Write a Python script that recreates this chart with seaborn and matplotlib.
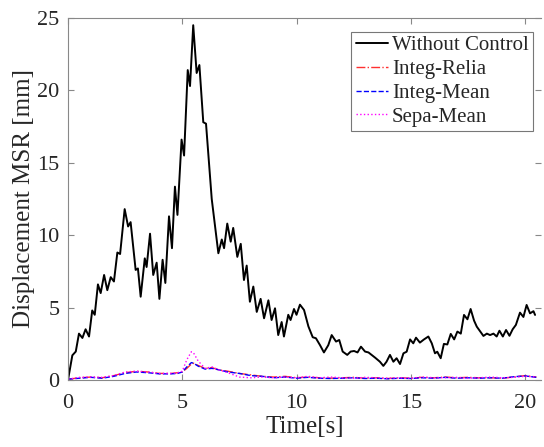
import numpy as np
import pandas as pd
import seaborn as sns
import matplotlib
matplotlib.use('Agg')
import matplotlib.pyplot as plt

# 제어 없음 (Without Control) : 시간[s], 변위 MSR[mm]
t_free = [0.0, 0.19, 0.34, 0.48, 0.63, 0.77, 0.92, 1.06, 1.17, 1.31, 1.43, 1.58, 1.72, 1.87, 2.01,
          2.16, 2.28, 2.48, 2.63, 2.74, 2.96, 3.06, 3.18, 3.36, 3.44, 3.59, 3.73, 3.88, 4.0, 4.14,
          4.26, 4.42, 4.55, 4.68, 4.79, 4.97, 5.08, 5.24, 5.34, 5.48, 5.63, 5.75, 5.92, 6.04, 6.29,
          6.58, 6.73, 6.83, 6.97, 7.12, 7.23, 7.41, 7.56, 7.70, 7.82, 7.96, 8.11, 8.26, 8.43, 8.58,
          8.77, 8.91, 9.06, 9.20, 9.35, 9.45, 9.64, 9.74, 9.89, 10.0, 10.15, 10.33, 10.52, 10.71,
          10.85, 11.03, 11.2, 11.39, 11.54, 11.73, 11.87, 12.02, 12.22, 12.37, 12.52, 12.67, 12.82,
          13.0, 13.15, 13.44, 13.65, 13.8, 13.94, 14.09, 14.24, 14.38, 14.53, 14.68, 14.82, 14.97,
          15.11, 15.23, 15.4, 15.58, 15.77, 15.92, 16.06, 16.16, 16.31, 16.45, 16.6, 16.75, 16.9,
          17.04, 17.19, 17.33, 17.48, 17.62, 17.77, 17.89, 18.06, 18.18, 18.33, 18.47, 18.62, 18.76,
          18.88, 19.03, 19.17, 19.32, 19.46, 19.6, 19.78, 19.93, 20.07, 20.22, 20.37, 20.44]
y_free = [0.0, 1.7, 1.96, 3.2, 2.9, 3.5, 3.0, 4.8, 4.5, 6.6, 6.0, 7.25, 6.2, 7.1, 6.8,
          8.8, 8.7, 11.8, 10.6, 10.9, 7.6, 7.7, 5.75, 8.4, 7.8, 10.1, 7.25, 8.1, 5.6, 8.3,
          6.7, 11.3, 9.1, 13.35, 11.4, 16.6, 15.5, 21.4, 20.3, 24.5, 21.2, 21.75, 17.8, 17.7, 12.5,
          8.75, 9.7, 9.1, 10.8, 9.55, 10.5, 8.5, 9.4, 6.9, 7.9, 5.4, 6.45, 4.7, 5.6, 4.26,
          5.5, 4.14, 4.95, 3.1, 4.0, 3.0, 4.5, 4.14, 4.9, 4.5, 5.2, 4.83, 3.7, 2.95,
          2.88, 2.4, 1.9, 2.4, 3.1, 2.65, 2.76, 1.96, 1.73, 1.96, 2.0, 1.9, 2.3,
          1.96, 1.9, 1.54, 1.26, 0.97, 1.26, 1.73, 1.26, 1.5, 1.1, 1.84, 1.95, 2.8,
          2.53, 2.92, 2.58, 2.8, 3.0, 2.53, 1.84, 1.95, 1.5, 2.49, 2.45, 3.18, 2.8,
          3.34, 3.2, 4.49, 4.19, 4.9, 4.1, 3.68, 3.3, 3.04, 3.2, 3.1, 3.2, 3.0,
          3.4, 3.0, 3.45, 3.05, 3.5, 3.8, 4.65, 4.35, 5.18, 4.6, 4.75, 4.49]

# 제어 적용 3가지 경우
t_ctrl = [0.0, 0.5, 1.0, 1.5, 2.0, 2.5, 3.0, 3.5, 4.0, 4.5, 4.8, 5.0, 5.2, 5.4, 5.5, 5.7,
          6.0, 6.3, 6.6, 7.0, 7.5, 8.0, 8.5, 9.0, 9.5, 10.0, 10.5, 11.0, 11.5, 12.0, 12.5,
          13.0, 13.5, 14.0, 14.5, 15.0, 15.5, 16.0, 16.5, 17.0, 17.5, 18.0, 18.5, 19.0,
          19.5, 20.0, 20.5]
y_relia = [0.05, 0.15, 0.2, 0.15, 0.3, 0.5, 0.6, 0.55, 0.45, 0.45, 0.5, 0.55, 0.8, 1.1, 1.15, 1.0,
           0.8, 0.85, 0.7, 0.6, 0.45, 0.35, 0.25, 0.2, 0.25, 0.15, 0.2, 0.15, 0.12, 0.15, 0.18,
           0.12, 0.15, 0.1, 0.15, 0.12, 0.18, 0.15, 0.2, 0.15, 0.18, 0.15, 0.15, 0.12,
           0.2, 0.3, 0.2]
y_mean = [0.05, 0.12, 0.18, 0.12, 0.25, 0.45, 0.55, 0.5, 0.42, 0.42, 0.45, 0.55, 0.9, 1.2, 1.15, 0.95,
          0.75, 0.8, 0.7, 0.55, 0.45, 0.3, 0.25, 0.15, 0.2, 0.12, 0.18, 0.12, 0.1, 0.12, 0.15,
          0.1, 0.12, 0.08, 0.12, 0.1, 0.15, 0.12, 0.18, 0.12, 0.15, 0.12, 0.15, 0.12,
          0.22, 0.28, 0.18]
y_sepa = [0.05, 0.18, 0.2, 0.18, 0.3, 0.55, 0.6, 0.55, 0.45, 0.45, 0.5, 0.6, 1.4, 1.95, 1.85, 1.3,
          0.8, 0.9, 0.7, 0.5, 0.2, 0.15, 0.2, 0.15, 0.2, 0.15, 0.25, 0.15, 0.2, 0.15, 0.12,
          0.18, 0.15, 0.12, 0.15, 0.12, 0.2, 0.15, 0.15, 0.18, 0.12, 0.15, 0.2, 0.15,
          0.18, 0.25, 0.2]

df_free = pd.DataFrame({'t': t_free, 'y': y_free})
df_ctrl = pd.DataFrame({'t': t_ctrl, 'relia': y_relia, 'mean': y_mean, 'sepa': y_sepa})

sns.set_style('ticks')
plt.rcParams['font.family'] = ['Liberation Serif', 'DejaVu Serif']

fig = plt.figure(figsize=(5.44, 4.47), dpi=100)
ax = fig.add_axes([0.125, 0.15, 0.8695, 0.8098])

sns.lineplot(data=df_free, x='t', y='y', color='black', lw=1.4, label='Without Control', ax=ax)
sns.lineplot(data=df_ctrl, x='t', y='relia', color='#ff3030', lw=1.0, linestyle='-.', label='Integ-Relia', ax=ax)
sns.lineplot(data=df_ctrl, x='t', y='mean', color='#0000ff', lw=1.0, linestyle='--', label='Integ-Mean', ax=ax)
sns.lineplot(data=df_ctrl, x='t', y='sepa', color='#ff00ff', lw=1.0, linestyle=':', label='Sepa-Mean', ax=ax)

ax.set_xlim(0, 20.7)
ax.set_ylim(0, 25)
ax.set_xticks([0, 5, 10, 15, 20])
ax.set_yticks([0, 5, 10, 15, 20, 25])
ax.set_xlabel('Time[s]', fontsize=18, labelpad=2)
ax.set_ylabel('Displacement MSR [mm]', fontsize=18, labelpad=2)
ax.tick_params(direction='in', length=4, width=0.8, color='#888888', labelsize=16,
               top=True, right=True)
ax.tick_params(axis='x', pad=10)
ax.tick_params(axis='y', pad=6)
for s in ['left', 'bottom', 'top']:
    ax.spines[s].set_color('#888888')
    ax.spines[s].set_linewidth(0.8)
ax.spines['right'].set_visible(False)

leg = ax.legend(loc='upper right', bbox_to_anchor=(0.983, 0.962), fontsize=15, frameon=True,
                fancybox=False, handlelength=1.55, handletextpad=0.2, borderpad=0.2,
                labelspacing=0.2, borderaxespad=0)
leg.get_frame().set_edgecolor('#555555')
leg.get_frame().set_linewidth(0.8)

fig.savefig('out.png', dpi=100)
